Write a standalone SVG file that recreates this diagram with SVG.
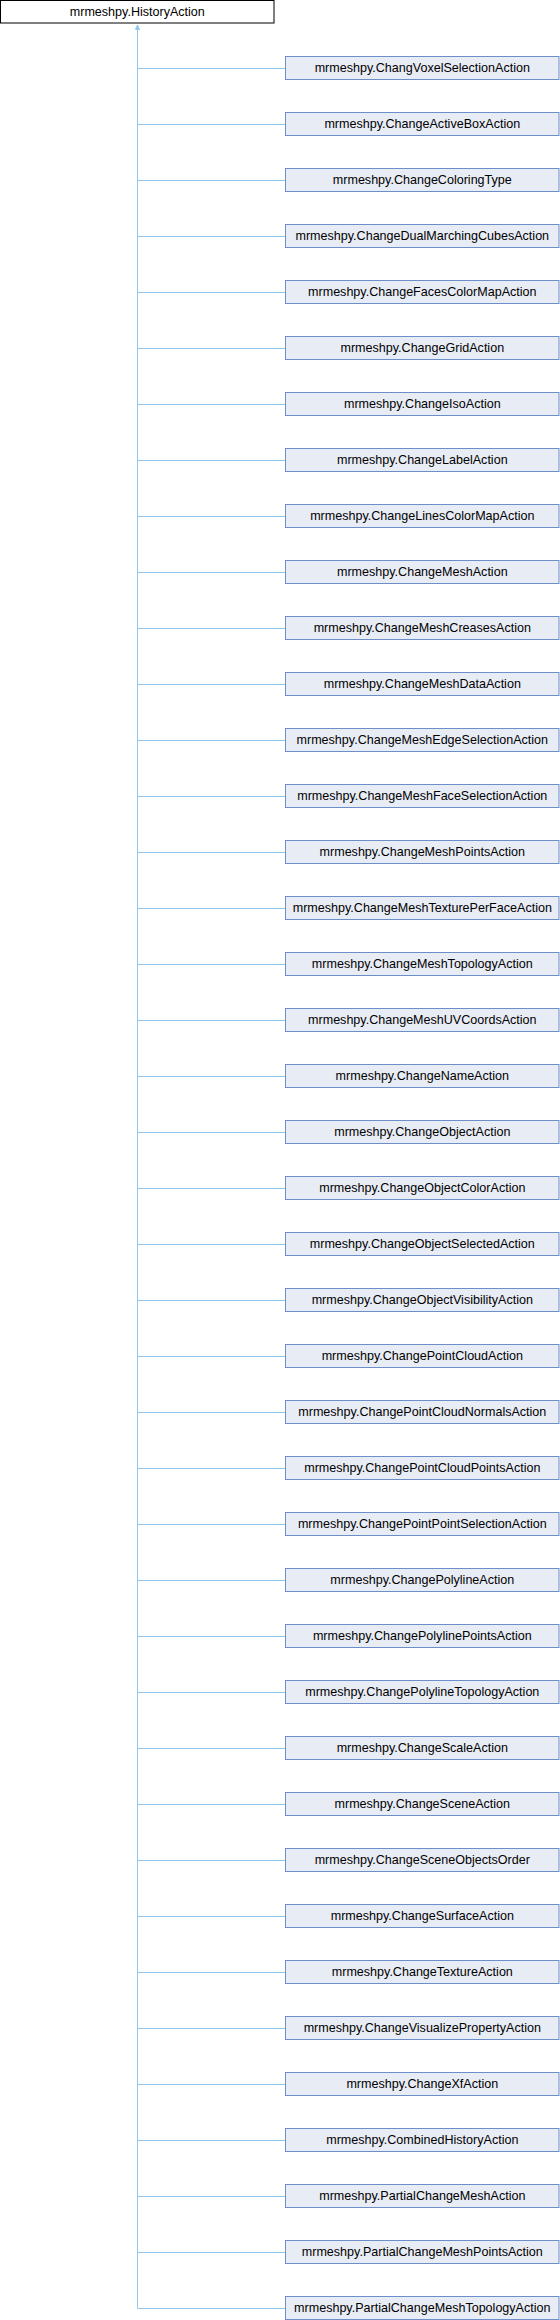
<svg xmlns="http://www.w3.org/2000/svg" width="560" height="2320" viewBox="0 0 560 2320">
<defs>
<style>
.n rect{fill:#e8ecf5;stroke:#6d8ec8;stroke-width:1}
.r rect{fill:#ffffff;stroke:#000000;stroke-width:1}
text{font-family:"Liberation Sans",Arial,Helvetica,sans-serif;font-size:12.55px;fill:#000;text-anchor:middle}
.e line{stroke:#92c8ee;stroke-width:1;fill:none}
.e polygon{fill:#92c8ee;stroke:#92c8ee;stroke-width:1}
</style>
</defs>
<rect x="0" y="0" width="560" height="2320" fill="#ffffff"/>
<g id="edges" class="e">
<line x1="137.5" y1="30" x2="137.5" y2="2308.5"/>
<polygon points="137.5,25 135.5,29.5 139.5,29.5"/>
<line x1="137.5" y1="68.5" x2="285.5" y2="68.5"/>
<line x1="137.5" y1="124.5" x2="285.5" y2="124.5"/>
<line x1="137.5" y1="180.5" x2="285.5" y2="180.5"/>
<line x1="137.5" y1="236.5" x2="285.5" y2="236.5"/>
<line x1="137.5" y1="292.5" x2="285.5" y2="292.5"/>
<line x1="137.5" y1="348.5" x2="285.5" y2="348.5"/>
<line x1="137.5" y1="404.5" x2="285.5" y2="404.5"/>
<line x1="137.5" y1="460.5" x2="285.5" y2="460.5"/>
<line x1="137.5" y1="516.5" x2="285.5" y2="516.5"/>
<line x1="137.5" y1="572.5" x2="285.5" y2="572.5"/>
<line x1="137.5" y1="628.5" x2="285.5" y2="628.5"/>
<line x1="137.5" y1="684.5" x2="285.5" y2="684.5"/>
<line x1="137.5" y1="740.5" x2="285.5" y2="740.5"/>
<line x1="137.5" y1="796.5" x2="285.5" y2="796.5"/>
<line x1="137.5" y1="852.5" x2="285.5" y2="852.5"/>
<line x1="137.5" y1="908.5" x2="285.5" y2="908.5"/>
<line x1="137.5" y1="964.5" x2="285.5" y2="964.5"/>
<line x1="137.5" y1="1020.5" x2="285.5" y2="1020.5"/>
<line x1="137.5" y1="1076.5" x2="285.5" y2="1076.5"/>
<line x1="137.5" y1="1132.5" x2="285.5" y2="1132.5"/>
<line x1="137.5" y1="1188.5" x2="285.5" y2="1188.5"/>
<line x1="137.5" y1="1244.5" x2="285.5" y2="1244.5"/>
<line x1="137.5" y1="1300.5" x2="285.5" y2="1300.5"/>
<line x1="137.5" y1="1356.5" x2="285.5" y2="1356.5"/>
<line x1="137.5" y1="1412.5" x2="285.5" y2="1412.5"/>
<line x1="137.5" y1="1468.5" x2="285.5" y2="1468.5"/>
<line x1="137.5" y1="1524.5" x2="285.5" y2="1524.5"/>
<line x1="137.5" y1="1580.5" x2="285.5" y2="1580.5"/>
<line x1="137.5" y1="1636.5" x2="285.5" y2="1636.5"/>
<line x1="137.5" y1="1692.5" x2="285.5" y2="1692.5"/>
<line x1="137.5" y1="1748.5" x2="285.5" y2="1748.5"/>
<line x1="137.5" y1="1804.5" x2="285.5" y2="1804.5"/>
<line x1="137.5" y1="1860.5" x2="285.5" y2="1860.5"/>
<line x1="137.5" y1="1916.5" x2="285.5" y2="1916.5"/>
<line x1="137.5" y1="1972.5" x2="285.5" y2="1972.5"/>
<line x1="137.5" y1="2028.5" x2="285.5" y2="2028.5"/>
<line x1="137.5" y1="2084.5" x2="285.5" y2="2084.5"/>
<line x1="137.5" y1="2140.5" x2="285.5" y2="2140.5"/>
<line x1="137.5" y1="2196.5" x2="285.5" y2="2196.5"/>
<line x1="137.5" y1="2252.5" x2="285.5" y2="2252.5"/>
<line x1="137.5" y1="2308.5" x2="285.5" y2="2308.5"/>
</g>
<g id="root" class="r"><rect x="0.5" y="0.5" width="273.5" height="22.5"/><text x="137.3" y="15.5">mrmeshpy.HistoryAction</text></g>
<g id="n1" class="n"><rect x="285.5" y="56.5" width="273.5" height="23"/><text x="422.3" y="71.5">mrmeshpy.ChangVoxelSelectionAction</text></g>
<g id="n2" class="n"><rect x="285.5" y="112.5" width="273.5" height="23"/><text x="422.3" y="127.5">mrmeshpy.ChangeActiveBoxAction</text></g>
<g id="n3" class="n"><rect x="285.5" y="168.5" width="273.5" height="23"/><text x="422.3" y="183.5">mrmeshpy.ChangeColoringType</text></g>
<g id="n4" class="n"><rect x="285.5" y="224.5" width="273.5" height="23"/><text x="422.3" y="239.5">mrmeshpy.ChangeDualMarchingCubesAction</text></g>
<g id="n5" class="n"><rect x="285.5" y="280.5" width="273.5" height="23"/><text x="422.3" y="295.5">mrmeshpy.ChangeFacesColorMapAction</text></g>
<g id="n6" class="n"><rect x="285.5" y="336.5" width="273.5" height="23"/><text x="422.3" y="351.5">mrmeshpy.ChangeGridAction</text></g>
<g id="n7" class="n"><rect x="285.5" y="392.5" width="273.5" height="23"/><text x="422.3" y="407.5">mrmeshpy.ChangeIsoAction</text></g>
<g id="n8" class="n"><rect x="285.5" y="448.5" width="273.5" height="23"/><text x="422.3" y="463.5">mrmeshpy.ChangeLabelAction</text></g>
<g id="n9" class="n"><rect x="285.5" y="504.5" width="273.5" height="23"/><text x="422.3" y="519.5">mrmeshpy.ChangeLinesColorMapAction</text></g>
<g id="n10" class="n"><rect x="285.5" y="560.5" width="273.5" height="23"/><text x="422.3" y="575.5">mrmeshpy.ChangeMeshAction</text></g>
<g id="n11" class="n"><rect x="285.5" y="616.5" width="273.5" height="23"/><text x="422.3" y="631.5">mrmeshpy.ChangeMeshCreasesAction</text></g>
<g id="n12" class="n"><rect x="285.5" y="672.5" width="273.5" height="23"/><text x="422.3" y="687.5">mrmeshpy.ChangeMeshDataAction</text></g>
<g id="n13" class="n"><rect x="285.5" y="728.5" width="273.5" height="23"/><text x="422.3" y="743.5">mrmeshpy.ChangeMeshEdgeSelectionAction</text></g>
<g id="n14" class="n"><rect x="285.5" y="784.5" width="273.5" height="23"/><text x="422.3" y="799.5">mrmeshpy.ChangeMeshFaceSelectionAction</text></g>
<g id="n15" class="n"><rect x="285.5" y="840.5" width="273.5" height="23"/><text x="422.3" y="855.5">mrmeshpy.ChangeMeshPointsAction</text></g>
<g id="n16" class="n"><rect x="285.5" y="896.5" width="273.5" height="23"/><text x="422.3" y="911.5">mrmeshpy.ChangeMeshTexturePerFaceAction</text></g>
<g id="n17" class="n"><rect x="285.5" y="952.5" width="273.5" height="23"/><text x="422.3" y="967.5">mrmeshpy.ChangeMeshTopologyAction</text></g>
<g id="n18" class="n"><rect x="285.5" y="1008.5" width="273.5" height="23"/><text x="422.3" y="1023.5">mrmeshpy.ChangeMeshUVCoordsAction</text></g>
<g id="n19" class="n"><rect x="285.5" y="1064.5" width="273.5" height="23"/><text x="422.3" y="1079.5">mrmeshpy.ChangeNameAction</text></g>
<g id="n20" class="n"><rect x="285.5" y="1120.5" width="273.5" height="23"/><text x="422.3" y="1135.5">mrmeshpy.ChangeObjectAction</text></g>
<g id="n21" class="n"><rect x="285.5" y="1176.5" width="273.5" height="23"/><text x="422.3" y="1191.5">mrmeshpy.ChangeObjectColorAction</text></g>
<g id="n22" class="n"><rect x="285.5" y="1232.5" width="273.5" height="23"/><text x="422.3" y="1247.5">mrmeshpy.ChangeObjectSelectedAction</text></g>
<g id="n23" class="n"><rect x="285.5" y="1288.5" width="273.5" height="23"/><text x="422.3" y="1303.5">mrmeshpy.ChangeObjectVisibilityAction</text></g>
<g id="n24" class="n"><rect x="285.5" y="1344.5" width="273.5" height="23"/><text x="422.3" y="1359.5">mrmeshpy.ChangePointCloudAction</text></g>
<g id="n25" class="n"><rect x="285.5" y="1400.5" width="273.5" height="23"/><text x="422.3" y="1415.5">mrmeshpy.ChangePointCloudNormalsAction</text></g>
<g id="n26" class="n"><rect x="285.5" y="1456.5" width="273.5" height="23"/><text x="422.3" y="1471.5">mrmeshpy.ChangePointCloudPointsAction</text></g>
<g id="n27" class="n"><rect x="285.5" y="1512.5" width="273.5" height="23"/><text x="422.3" y="1527.5">mrmeshpy.ChangePointPointSelectionAction</text></g>
<g id="n28" class="n"><rect x="285.5" y="1568.5" width="273.5" height="23"/><text x="422.3" y="1583.5">mrmeshpy.ChangePolylineAction</text></g>
<g id="n29" class="n"><rect x="285.5" y="1624.5" width="273.5" height="23"/><text x="422.3" y="1639.5">mrmeshpy.ChangePolylinePointsAction</text></g>
<g id="n30" class="n"><rect x="285.5" y="1680.5" width="273.5" height="23"/><text x="422.3" y="1695.5">mrmeshpy.ChangePolylineTopologyAction</text></g>
<g id="n31" class="n"><rect x="285.5" y="1736.5" width="273.5" height="23"/><text x="422.3" y="1751.5">mrmeshpy.ChangeScaleAction</text></g>
<g id="n32" class="n"><rect x="285.5" y="1792.5" width="273.5" height="23"/><text x="422.3" y="1807.5">mrmeshpy.ChangeSceneAction</text></g>
<g id="n33" class="n"><rect x="285.5" y="1848.5" width="273.5" height="23"/><text x="422.3" y="1863.5">mrmeshpy.ChangeSceneObjectsOrder</text></g>
<g id="n34" class="n"><rect x="285.5" y="1904.5" width="273.5" height="23"/><text x="422.3" y="1919.5">mrmeshpy.ChangeSurfaceAction</text></g>
<g id="n35" class="n"><rect x="285.5" y="1960.5" width="273.5" height="23"/><text x="422.3" y="1975.5">mrmeshpy.ChangeTextureAction</text></g>
<g id="n36" class="n"><rect x="285.5" y="2016.5" width="273.5" height="23"/><text x="422.3" y="2031.5">mrmeshpy.ChangeVisualizePropertyAction</text></g>
<g id="n37" class="n"><rect x="285.5" y="2072.5" width="273.5" height="23"/><text x="422.3" y="2087.5">mrmeshpy.ChangeXfAction</text></g>
<g id="n38" class="n"><rect x="285.5" y="2128.5" width="273.5" height="23"/><text x="422.3" y="2143.5">mrmeshpy.CombinedHistoryAction</text></g>
<g id="n39" class="n"><rect x="285.5" y="2184.5" width="273.5" height="23"/><text x="422.3" y="2199.5">mrmeshpy.PartialChangeMeshAction</text></g>
<g id="n40" class="n"><rect x="285.5" y="2240.5" width="273.5" height="23"/><text x="422.3" y="2255.5">mrmeshpy.PartialChangeMeshPointsAction</text></g>
<g id="n41" class="n"><rect x="285.5" y="2296.5" width="273.5" height="23"/><text x="422.3" y="2311.5">mrmeshpy.PartialChangeMeshTopologyAction</text></g>
</svg>
